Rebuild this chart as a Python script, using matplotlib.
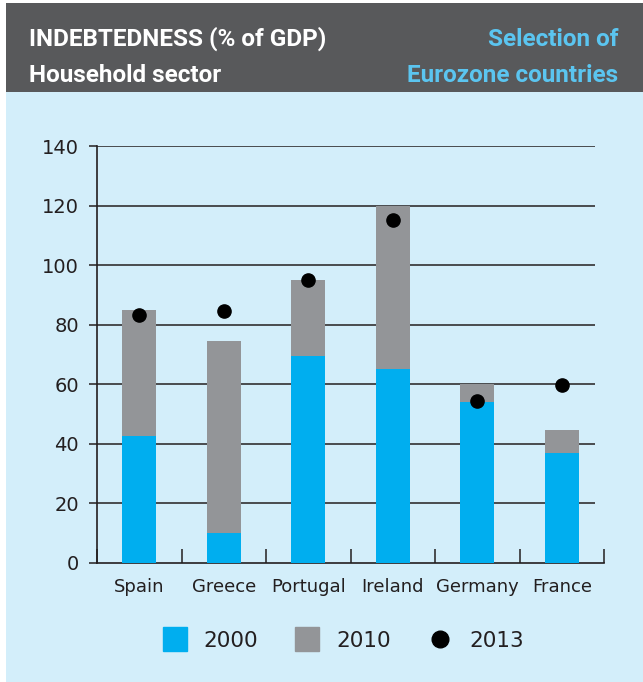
import numpy as np
import matplotlib.pyplot as plt
from matplotlib.patches import Rectangle
from matplotlib.lines import Line2D

countries = ["Spain", "Greece", "Portugal", "Ireland", "Germany", "France"]
debt_2000 = [42.5, 10.2, 69.5, 65, 54.2, 37]
debt_2010 = [84.8, 74.5, 95, 120, 60, 44.7]
debt_2013 = [83.3, 84.7, 95, 115, 54.5, 59.8]
yticks = [0, 20, 40, 60, 80, 100, 120, 140]

BLUE = "#00aeef"
GREY = "#939598"
PANEL = "#d3eefa"
HEADER = "#58595b"
TITLE_BLUE = "#5bc5f0"
INK = "#231f20"

W, H = 643, 682
fig = plt.figure(figsize=(W / 100, H / 100), dpi=100)
fig.patch.set_facecolor("white")

def fx(px):
    return px / W

def fy(px):
    return 1 - px / H

# background panel and header band
fig.patches.append(Rectangle((fx(6), 0), 1 - fx(6), fy(3), transform=fig.transFigure,
                             facecolor=PANEL, edgecolor="none", zorder=-2))
fig.patches.append(Rectangle((fx(6), fy(92)), 1 - fx(6), fy(3) - fy(92),
                             transform=fig.transFigure, facecolor=HEADER,
                             edgecolor="none", zorder=-1))

title_font = dict(family=["Roboto", "DejaVu Sans"], weight="bold", fontsize=17.5)
fig.text(fx(29), fy(39), "INDEBTEDNESS (% of GDP)", color="white", va="center",
         ha="left", **title_font)
fig.text(fx(29), fy(76), "Household sector", color="white", va="center",
         ha="left", **title_font)
fig.text(fx(618), fy(39), "Selection of", color=TITLE_BLUE, va="center",
         ha="right", **title_font)
fig.text(fx(618), fy(76), "Eurozone countries", color=TITLE_BLUE, va="center",
         ha="right", **title_font)

ax = fig.add_axes([fx(97), fy(563), fx(604) - fx(97), fy(146) - fy(563)])
ax.set_facecolor("none")

x = np.arange(len(countries))
ax.bar(x, debt_2010, width=0.4, color=GREY, zorder=2)
ax.bar(x, debt_2000, width=0.4, color=BLUE, zorder=3)
ax.plot(x, debt_2013, "o", color="black", markersize=9.5, zorder=4)

ax.set_xlim(-0.5, 5.5)
ax.set_ylim(0, 140)

# horizontal rules stop a little short of the right edge
ax.hlines(yticks[1:], -0.5, 5.39, color=INK, linewidth=1.1, zorder=1)

for side in ["top", "right"]:
    ax.spines[side].set_visible(False)
for side in ["left", "bottom"]:
    ax.spines[side].set_color(INK)
    ax.spines[side].set_linewidth(1.2)

label_font = "DejaVu Sans"
ax.set_yticks(yticks)
ax.set_yticklabels([str(v) for v in yticks], fontsize=14, family=label_font, color=INK)
ax.tick_params(axis="y", length=6, width=1.1, color=INK, pad=7)

# category separators as inward ticks, names centred without ticks
ax.set_xticks(np.arange(-0.5, 6, 1.0))
ax.set_xticklabels([])
ax.tick_params(axis="x", which="major", direction="in", length=10, width=1.1, color=INK)
ax.set_xticks(x, minor=True)
ax.set_xticklabels(countries, minor=True, fontsize=13, family=label_font, color=INK)
ax.tick_params(axis="x", which="minor", length=0, pad=11)

handles = [
    Line2D([], [], marker="s", linestyle="none", color=BLUE, markersize=17),
    Line2D([], [], marker="s", linestyle="none", color=GREY, markersize=17),
    Line2D([], [], marker="o", linestyle="none", color="black", markersize=12),
]
fig.legend(handles, ["2000", "2010", "2013"], loc="center", ncol=3,
           bbox_to_anchor=(fx(343), fy(641)), frameon=False,
           prop=dict(family=label_font, size=15.5), handlelength=1.12,
           handletextpad=0.8, columnspacing=1.7, labelcolor=INK)

fig.savefig("out.png", dpi=100, facecolor=fig.get_facecolor())
